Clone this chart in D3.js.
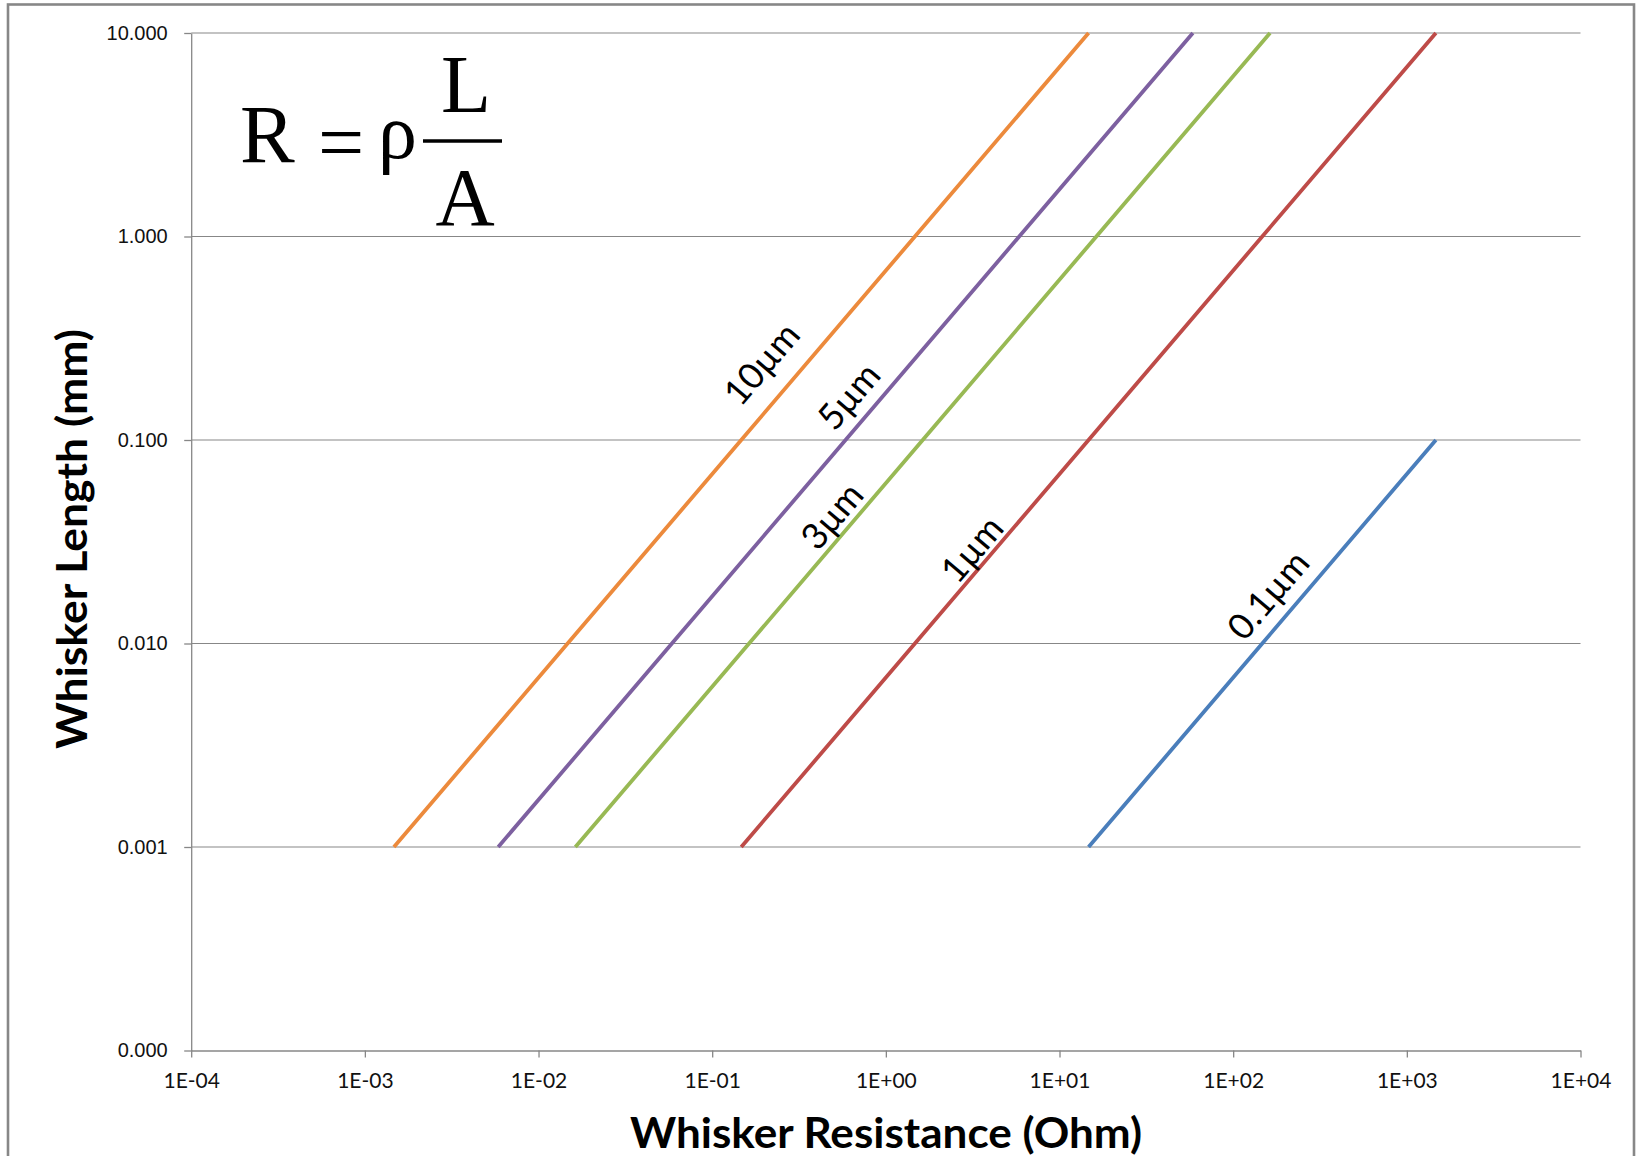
<!DOCTYPE html>
<html>
<head>
<meta charset="utf-8">
<script src="https://cdn.jsdelivr.net/npm/d3@7"></script>
<style>
  html, body { margin: 0; padding: 0; background: #fff; }
  svg { display: block; }
</style>
</head>
<body>
<svg id="chart" width="1638" height="1156"></svg>
<script>
// ---- data ----
const lengthsMM = [0.001, 0.01, 0.1, 1, 10];             // whisker length, mm
const series10um  = [0.00147, 0.0147, 0.147, 1.47, 14.7]; // resistance (Ohm) per length
const series5um   = [0.00586, 0.0586, 0.586, 5.86, 58.6];
const series3um   = [0.0163, 0.163, 1.63, 16.3, 163];
const series1um   = [0.147, 1.47, 14.7, 147, 1470];
const series01um  = [14.7, 147, 1470];                     // only for 0.001 .. 0.1 mm
const seriesNames = ["0.1µm", "1µm", "3µm", "5µm", "10µm"];
const labelR = [157, 3.09, 0.483, 0.605, 0.19];           // label anchor (Ohm)
const labelL = [0.0175, 0.0294, 0.0428, 0.166, 0.239];    // label anchor (mm)
const xTickValues = [1e-4, 1e-3, 1e-2, 1e-1, 1e0, 1e1, 1e2, 1e3, 1e4];
const xTickLabels = ["1E-04","1E-03","1E-02","1E-01","1E+00","1E+01","1E+02","1E+03","1E+04"];
const yTickValues = [1e-4, 1e-3, 1e-2, 1e-1, 1, 10];
const yTickLabels = ["0.000","0.001","0.010","0.100","1.000","10.000"];

const seriesData = [series01um, series1um, series3um, series5um, series10um];
const colors = ["#4A7EBB", "#BE4B48", "#98B954", "#7D60A0", "#EC8A3C"];

// ---- layout ----
const svg = d3.select("#chart");
const pLeft = 191.2, pRight = 1580.5, pTop = 33, pBottom = 1050.5;
const x = d3.scaleLog().domain([1e-4, 1e4]).range([pLeft, pRight]);
const y = d3.scaleLog().domain([1e-4, 10]).range([pBottom, pTop]);
const grey = "#878787";

// outer chart border
svg.append("rect")
  .attr("x", 8).attr("y", 4.5).attr("width", 1626).attr("height", 1180)
  .attr("fill", "none").attr("stroke", grey).attr("stroke-width", 2.6);

// gridlines
svg.append("g").selectAll("line")
  .data(yTickValues.slice(1))
  .join("line")
  .attr("x1", pLeft).attr("x2", pRight)
  .attr("y1", d => y(d)).attr("y2", d => y(d))
  .attr("stroke", grey).attr("stroke-width", 1.1);

// x axis
const xAxis = svg.append("g").attr("transform", `translate(0,${pBottom})`)
  .call(d3.axisBottom(x).tickValues(xTickValues)
    .tickFormat((d, i) => xTickLabels[i]).tickSize(7).tickSizeOuter(0).tickPadding(15.5));
xAxis.select(".domain").attr("stroke", grey).attr("stroke-width", 1.3);
xAxis.selectAll(".tick line").attr("stroke", grey).attr("stroke-width", 1.3);
xAxis.selectAll("text").attr("font-family", "Lato, 'Open Sans', sans-serif")
  .attr("font-size", 21).attr("fill", "#111");

// y axis
const yAxis = svg.append("g").attr("transform", `translate(${pLeft},0)`)
  .call(d3.axisLeft(y).tickValues(yTickValues)
    .tickFormat((d, i) => yTickLabels[i]).tickSize(7).tickSizeOuter(0).tickPadding(16.5));
yAxis.select(".domain").attr("stroke", grey).attr("stroke-width", 1.3);
yAxis.selectAll(".tick line").attr("stroke", grey).attr("stroke-width", 1.3);
yAxis.selectAll("text").attr("font-family", "'Liberation Sans', Arial, sans-serif")
  .attr("font-size", 20).attr("fill", "#111");

// series lines
const line = d3.line().x(d => x(d[0])).y(d => y(d[1]));
seriesData.forEach((vals, i) => {
  const pts = vals.map((r, j) => [r, lengthsMM[j]]);
  svg.append("path").datum(pts)
    .attr("d", line)
    .attr("fill", "none")
    .attr("stroke", colors[i])
    .attr("stroke-width", 3.8)
    .attr("stroke-linecap", "butt");
});

// line labels
const angle = -Math.atan(((y(0.001) - y(0.01))) / (x(0.01) - x(0.001))) * 180 / Math.PI;
seriesNames.forEach((name, i) => {
  const cx = x(labelR[i]), cy = y(labelL[i]);
  svg.append("text")
    .attr("transform", `translate(${cx},${cy}) rotate(${angle})`)
    .attr("text-anchor", "middle")
    .attr("dominant-baseline", "central")
    .attr("font-family", "Lato, 'Open Sans', sans-serif")
    .attr("font-size", 36)
    .attr("fill", "#000")
    .text(name);
});

// axis titles
svg.append("text")
  .attr("x", 630).attr("y", 1148)
  .attr("font-family", "Lato, 'Open Sans', sans-serif")
  .attr("font-weight", "bold").attr("font-size", 42)
  .attr("textLength", 512).attr("lengthAdjust", "spacingAndGlyphs")
  .attr("fill", "#000")
  .text("Whisker Resistance (Ohm)");

svg.append("text")
  .attr("transform", "rotate(-90)")
  .attr("x", -749).attr("y", 87)
  .attr("font-family", "Lato, 'Open Sans', sans-serif")
  .attr("font-weight", "bold").attr("font-size", 42)
  .attr("textLength", 420).attr("lengthAdjust", "spacingAndGlyphs")
  .attr("fill", "#000")
  .text("Whisker Length (mm)");

// formula R = ρ L / A
const f = svg.append("g").attr("font-family", "'Liberation Serif', 'Times New Roman', serif")
  .attr("font-size", 82).attr("fill", "#000");
f.append("text").attr("x", 240).attr("y", 162).text("R");
f.append("text").attr("x", 341).attr("y", 170).attr("text-anchor", "middle").text("=");
f.append("text").attr("x", 378).attr("y", 158).attr("font-size", 78).text("ρ");
f.append("text").attr("x", 466).attr("y", 112).attr("text-anchor", "middle").text("L");
f.append("text").attr("x", 465).attr("y", 225).attr("text-anchor", "middle").text("A");
svg.append("line").attr("x1", 423).attr("x2", 502).attr("y1", 141).attr("y2", 141)
  .attr("stroke", "#000").attr("stroke-width", 3.5);
</script>
</body>
</html>
